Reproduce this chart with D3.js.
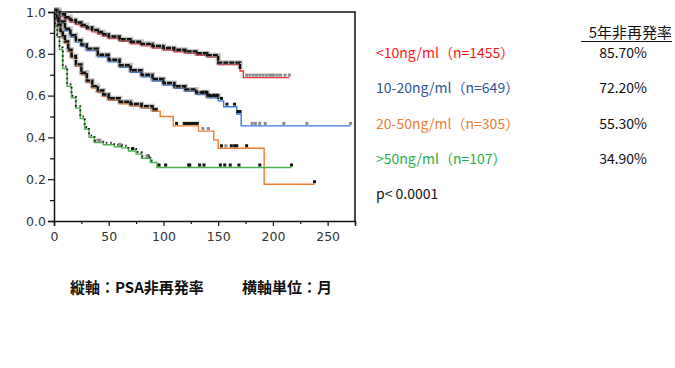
<!DOCTYPE html>
<html>
<head>
<meta charset="utf-8">
<script src="https://cdn.jsdelivr.net/npm/d3@7"></script>
<style>
  body { margin: 0; background: #fff; }
  svg { display: block; }
</style>
</head>
<body>
<div id="chart"></div>
<script>
// Kaplan-Meier step data (months, survival)
const lt10Times = [0, 5, 10, 15, 20, 25, 30, 35, 40, 45, 50, 60, 70, 80, 90, 100, 110, 120, 130, 140, 150, 170, 173];
const lt10Surv  = [1, 0.98, 0.965, 0.952, 0.94, 0.928, 0.916, 0.905, 0.895, 0.884, 0.873, 0.86, 0.848, 0.838, 0.828, 0.818, 0.81, 0.802, 0.793, 0.784, 0.748, 0.718, 0.686];
const lt10End = 215;

const m10Times = [0, 2, 5, 10, 15, 20, 25, 30, 40, 50, 60, 70, 80, 90, 100, 110, 120, 130, 140, 150, 155, 167, 171];
const m10Surv  = [1, 0.97, 0.945, 0.91, 0.88, 0.856, 0.835, 0.815, 0.786, 0.762, 0.736, 0.712, 0.69, 0.67, 0.651, 0.635, 0.62, 0.605, 0.59, 0.575, 0.547, 0.512, 0.455];
const m10End = 271;

const m20Times = [0, 2, 4, 6, 8, 10, 13, 16, 20, 25, 30, 35, 40, 45, 50, 60, 70, 80, 90, 97, 109, 132, 146, 150, 192];
const m20Surv  = [1, 0.96, 0.93, 0.9, 0.875, 0.85, 0.81, 0.78, 0.74, 0.7, 0.662, 0.636, 0.615, 0.596, 0.578, 0.561, 0.55, 0.54, 0.525, 0.5, 0.455, 0.43, 0.388, 0.348, 0.176];
const m20End = 238;

const gt50Times = [0, 1, 3, 5, 8, 12, 16, 20, 24, 28, 32, 37, 45, 55, 62, 68, 75, 80, 88, 94];
const gt50Surv  = [1, 0.93, 0.88, 0.82, 0.73, 0.645, 0.59, 0.54, 0.49, 0.44, 0.4, 0.375, 0.365, 0.355, 0.35, 0.335, 0.32, 0.3, 0.28, 0.256];
const gt50End = 217;

// where censor marks are so dense they form a dark band
const bandEnds = [170, 150, 95, 92];

// sparse censor marks (months)
const lt10CensBlack = [];
const lt10CensGray  = [176, 179, 182, 185, 188, 191, 194, 197, 199, 201, 204, 207, 211, 215];
const m10CensBlack  = [136, 139, 142, 146, 149, 153, 158, 165, 168, 170];
const m10CensGray   = [181, 184, 188, 193, 210, 231, 271];
const m20CensBlack  = [112, 119, 121, 123, 125, 127, 129, 131, 153, 162, 165, 167, 176, 238];
const m20CensGray   = [136, 141, 157];
const gt50CensBlack = [72, 86, 96, 102, 123, 124, 133, 137, 152, 156, 161, 169, 188, 217];
const gt50CensGray  = [40, 42, 60, 85];

// legend
const groupLabels = ["<10ng/ml（n=1455）", "10-20ng/ml（n=649）", "20-50ng/ml（n=305）", ">50ng/ml（n=107）"];
const fiveYear = ["85.70%", "72.20%", "55.30%", "34.90%"];
const lineColors = ["#e8333c", "#3b78d8", "#ee7d2e", "#4cb04f"];
const textColors = ["#ff1515", "#2f5597", "#ed7d31", "#1fae4f"];

const xTicks = [0, 50, 100, 150, 200, 250];
const yTicks = [0, 0.2, 0.4, 0.6, 0.8, 1.0];

const W = 675, H = 368;
const svg = d3.select("#chart").append("svg")
    .attr("width", W).attr("height", H)
    .style("background", "#fff");

const x = d3.scaleLinear().domain([0, 275]).range([54, 355]);
const y = d3.scaleLinear().domain([0, 1]).range([221, 12]);

const groups = [
  {t: lt10Times, s: lt10Surv, end: lt10End, black: lt10CensBlack, gray: lt10CensGray},
  {t: m10Times, s: m10Surv, end: m10End, black: m10CensBlack, gray: m10CensGray},
  {t: m20Times, s: m20Surv, end: m20End, black: m20CensBlack, gray: m20CensGray},
  {t: gt50Times, s: gt50Surv, end: gt50End, black: gt50CensBlack, gray: gt50CensGray}
];

// survival value at a given time (step function)
function survAt(g, t) {
  let v = g.s[0];
  g.t.forEach((tt, i) => { if (tt <= t) v = g.s[i]; });
  return v;
}

const step = d3.line()
    .x(d => x(d[0]))
    .y(d => y(d[1]))
    .curve(d3.curveStepAfter);

// frame: top and right borders
svg.append("path")
    .attr("d", `M${x(0)},${y(1)}H${x(275)}V${y(0)}`)
    .attr("fill", "none").attr("stroke", "#111").attr("stroke-width", 1.5);

const plot = svg.append("g");

groups.forEach((g, i) => {
  const pts = g.t.map((t, k) => [t, g.s[k]]);
  pts.push([g.end, g.s[g.s.length - 1]]);

  // colored KM line
  plot.append("path")
      .attr("d", step(pts))
      .attr("fill", "none")
      .attr("stroke", lineColors[i])
      .attr("stroke-width", 1.4);

  // dense censor band (slightly above the line)
  const bandPts = pts.filter(p => p[0] <= bandEnds[i]);
  bandPts.push([bandEnds[i], survAt(g, bandEnds[i])]);
  const band = plot.append("g").attr("transform", "translate(0,-2)");
  if (i < 3) {
    band.append("path")
        .attr("d", step(bandPts))
        .attr("fill", "none").attr("stroke", "#777").attr("stroke-opacity", 0.45)
        .attr("stroke-width", 5);
    band.append("path")
        .attr("d", step(bandPts))
        .attr("fill", "none").attr("stroke", "#111")
        .attr("stroke-width", 2.4)
        .attr("stroke-dasharray", "5,1");
  } else {
    band.append("path")
        .attr("d", step(bandPts))
        .attr("fill", "none").attr("stroke", "#222")
        .attr("stroke-width", 2)
        .attr("stroke-dasharray", "1.5,3");
  }

  // sparse censor marks
  const marks = g.black.map(t => ({t: t, c: "#111"}))
      .concat(g.gray.map(t => ({t: t, c: "#8a8a8a"})));
  plot.selectAll(null)
      .data(marks)
      .enter().append("rect")
      .attr("x", d => x(d.t) - 1.5)
      .attr("y", d => y(survAt(g, d.t)) - 4)
      .attr("width", 3).attr("height", 3)
      .attr("fill", d => d.c);
});

// axes
const font = "'DejaVu Sans', Verdana, sans-serif";

const xAxis = svg.append("g")
    .attr("transform", `translate(0,${y(0)})`)
    .call(d3.axisBottom(x).tickValues(xTicks).tickSize(5).tickFormat(d3.format("d")));
svg.append("g")
    .attr("transform", `translate(0,${y(0)})`)
    .call(d3.axisBottom(x).tickValues([25, 75, 125, 175, 225, 275]).tickSize(3).tickFormat(""))
    .select(".domain").remove();

const yAxis = svg.append("g")
    .attr("transform", `translate(${x(0)},0)`)
    .call(d3.axisLeft(y).tickValues(yTicks).tickSize(6).tickFormat(d3.format(".1f")));
svg.append("g")
    .attr("transform", `translate(${x(0)},0)`)
    .call(d3.axisLeft(y).tickValues([0.1, 0.3, 0.5, 0.7, 0.9]).tickSize(4).tickFormat(""))
    .select(".domain").remove();

svg.selectAll(".domain").attr("stroke", "#111").attr("stroke-width", 1.5);
svg.selectAll(".tick line").attr("stroke", "#111").attr("stroke-width", 1.2);
svg.selectAll(".tick text")
    .attr("font-family", font)
    .attr("font-size", 12.5)
    .attr("fill", "#333");
xAxis.selectAll(".tick text").attr("dy", "0.95em");
yAxis.selectAll(".tick text").attr("x", -8);

// legend
const jp = "'Noto Sans CJK JP', 'Noto Sans', sans-serif";

svg.append("text")
    .attr("x", 672).attr("y", 37.5)
    .attr("text-anchor", "end")
    .attr("font-family", jp).attr("font-size", 15)
    .attr("fill", "#111")
    .text("5年非再発率");
svg.append("line")
    .attr("x1", 581).attr("x2", 672)
    .attr("y1", 41.5).attr("y2", 41.5)
    .attr("stroke", "#111").attr("stroke-width", 1.2);

groupLabels.forEach((lab, i) => {
  const yy = 57.5 + i * 35.5;
  svg.append("text")
      .attr("x", 376).attr("y", yy)
      .attr("font-family", jp).attr("font-size", 14)
      .attr("fill", textColors[i])
      .text(lab);
  svg.append("text")
      .attr("x", 647).attr("y", yy)
      .attr("text-anchor", "end")
      .attr("font-family", jp).attr("font-size", 14)
      .attr("fill", "#111")
      .text(fiveYear[i]);
});

svg.append("text")
    .attr("x", 376).attr("y", 199)
    .attr("font-family", jp).attr("font-size", 14)
    .attr("fill", "#111")
    .text("p< 0.0001");

// footnote
svg.append("text")
    .attr("x", 70).attr("y", 293)
    .attr("font-family", jp).attr("font-size", 15).attr("font-weight", "bold")
    .attr("fill", "#111")
    .text("縦軸：PSA非再発率");
svg.append("text")
    .attr("x", 242).attr("y", 293)
    .attr("font-family", jp).attr("font-size", 15).attr("font-weight", "bold")
    .attr("fill", "#111")
    .text("横軸単位：月");
</script>
</body>
</html>
